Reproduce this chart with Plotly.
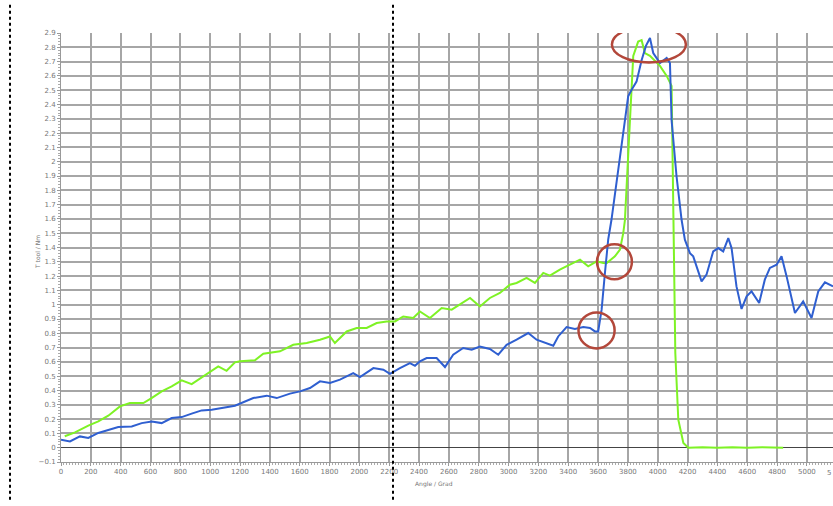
import plotly.graph_objects as go

# ---- data ----
green_x = [25, 94, 183, 250, 317, 395, 462, 552, 607, 675, 742, 809, 876, 943, 999, 1054, 1110,
           1166, 1200, 1300, 1356, 1468, 1557, 1647, 1736, 1803, 1836, 1915, 1982, 2049, 2116,
           2183, 2239, 2294, 2361, 2406, 2473, 2552, 2619, 2686, 2742, 2808, 2875, 2942, 3009,
           3054, 3121, 3177, 3233, 3277, 3344, 3411, 3479, 3534, 3590, 3635, 3657, 3713, 3747,
           3769, 3780, 3814, 3836, 3869, 3892, 3914, 3948, 4015, 4060, 4093, 4108, 4118, 4138,
           4172, 4205, 4300, 4400, 4500, 4600, 4700, 4841]
green_y = [0.08, 0.107, 0.154, 0.184, 0.224, 0.289, 0.312, 0.312, 0.347, 0.394, 0.429, 0.471,
           0.445, 0.494, 0.534, 0.569, 0.538, 0.597, 0.604, 0.611, 0.657, 0.674, 0.720, 0.732,
           0.755, 0.778, 0.732, 0.813, 0.837, 0.837, 0.872, 0.883, 0.883, 0.918, 0.907, 0.953,
           0.907, 0.977, 0.965, 1.012, 1.047, 0.988, 1.047, 1.082, 1.140, 1.152, 1.187, 1.152,
           1.222, 1.203, 1.245, 1.280, 1.315, 1.268, 1.303, 1.292, 1.29, 1.338, 1.385, 1.50,
           1.59, 2.29, 2.74, 2.84, 2.85, 2.76, 2.74, 2.67, 2.60, 2.53, 1.59, 0.66, 0.196,
           0.033, 0.0, 0.003, 0.0, 0.004, 0.0, 0.003, 0.0]

blue_x = [0, 60, 127, 183, 250, 317, 384, 474, 541, 608, 675, 742, 809, 876, 943, 1010, 1077,
          1166, 1289, 1379, 1446, 1535, 1602, 1669, 1736, 1803, 1870, 1959, 2004, 2094, 2161,
          2205, 2272, 2339, 2373, 2406, 2451, 2518, 2574, 2629, 2696, 2753, 2808, 2875, 2931,
          2987, 3054, 3132, 3188, 3255, 3300, 3333, 3389, 3445, 3501, 3546, 3579, 3601, 3624,
          3646, 3668, 3690, 3735, 3769, 3802, 3825, 3858, 3892, 3921, 3948, 3970, 4015, 4060,
          4082, 4093, 4126, 4160, 4182, 4216, 4238, 4294, 4327, 4372, 4406, 4439, 4473, 4495,
          4528, 4562, 4596, 4629, 4680, 4718, 4752, 4797, 4830, 4864, 4920, 4975, 5031, 5076,
          5121, 5175]
blue_y = [0.055, 0.044, 0.079, 0.068, 0.103, 0.126, 0.145, 0.149, 0.172, 0.184, 0.172, 0.207,
          0.214, 0.238, 0.261, 0.266, 0.277, 0.294, 0.347, 0.364, 0.347, 0.378, 0.394, 0.417,
          0.464, 0.452, 0.476, 0.522, 0.494, 0.557, 0.545, 0.517, 0.557, 0.592, 0.573, 0.604,
          0.627, 0.627, 0.564, 0.650, 0.697, 0.685, 0.708, 0.690, 0.650, 0.720, 0.755, 0.802,
          0.755, 0.732, 0.713, 0.778, 0.844, 0.830, 0.844, 0.837, 0.813, 0.813, 0.965, 1.22,
          1.455, 1.594, 1.944, 2.224, 2.457, 2.503, 2.56, 2.71, 2.81, 2.865, 2.76, 2.69, 2.725,
          2.69, 2.29, 1.90, 1.594, 1.455, 1.36, 1.338, 1.163, 1.21, 1.373, 1.396, 1.373, 1.466,
          1.396, 1.128, 0.97, 1.058, 1.093, 1.012, 1.175, 1.257, 1.28, 1.338, 1.198, 0.942,
          1.023, 0.907, 1.093, 1.156, 1.128]

# highlighted regions (centre x, centre y, half-width, half-height) in data units
marks_cx = [3941, 3710, 3590]
marks_cy = [2.82, 1.30, 0.82]
marks_rx = [248, 117, 121]
marks_ry = [0.126, 0.122, 0.126]

x_title = "Angle / Grad"
y_title = "T tool / Nm"
cut_tick = "5"

fig = go.Figure()
fig.add_trace(go.Scatter(x=green_x, y=green_y, mode="lines",
                         line=dict(color="#7ef225", width=2), showlegend=False))
fig.add_trace(go.Scatter(x=blue_x, y=blue_y, mode="lines",
                         line=dict(color="#2f5fd0", width=2), showlegend=False))

for cx, cy, rx, ry in zip(marks_cx, marks_cy, marks_rx, marks_ry):
    fig.add_shape(type="circle", xref="x", yref="y",
                  x0=cx - rx, x1=cx + rx, y0=cy - ry, y1=cy + ry,
                  line=dict(color="#b3473a", width=2.5))

# dotted separators of the composite screenshot
L, T, B, W = 61, 32.7, 462.3, 772
H = B - T
for px in [10, 393]:
    fig.add_shape(type="line", xref="paper", yref="paper",
                  x0=(px - L) / W, x1=(px - L) / W,
                  y0=(B - 500) / H, y1=(B - 2) / H,
                  line=dict(color="black", width=2, dash="dot"))

fig.add_annotation(text=x_title, xref="paper", yref="paper",
                   x=(413 - L) / W, y=(B - 484) / H, xanchor="left", yanchor="middle",
                   showarrow=False, font=dict(size=6, color="#777"))
fig.add_annotation(text=y_title, xref="paper", yref="paper",
                   x=(38 - L) / W, y=(B - 252) / H, xanchor="center", yanchor="middle",
                   textangle=-90, showarrow=False, font=dict(size=6, color="#777"))
fig.add_annotation(text=cut_tick, xref="paper", yref="paper", x=1, y=(B - 473) / H,
                   xanchor="right", yanchor="middle", showarrow=False,
                   font=dict(size=7, color="#777"))

fig.update_layout(
    width=833, height=506,
    margin=dict(l=L, r=0, t=T, b=506 - B, autoexpand=False),
    paper_bgcolor="white", plot_bgcolor="white",
    font=dict(family="DejaVu Sans", size=7, color="#777"),
    xaxis=dict(range=[0, 5175], dtick=200, tick0=0, showgrid=True,
               gridcolor="#a6a6a6", gridwidth=1.5, zeroline=False,
               showline=True, linecolor="#999", linewidth=1,
               ticks="outside", ticklen=3, tickcolor="#999",
               minor=dict(dtick=20, ticks="outside", ticklen=2, tickcolor="#aaa", showgrid=False),
               tickfont=dict(size=7, color="#777")),
    yaxis=dict(range=[-0.1, 2.9], dtick=0.1, tick0=0, showgrid=True,
               gridcolor="#a6a6a6", gridwidth=1.5, zeroline=True,
               zerolinecolor="#444", zerolinewidth=1,
               showline=True, linecolor="#999", linewidth=1,
               ticks="outside", ticklen=3, tickcolor="#999",
               minor=dict(dtick=0.02, ticks="outside", ticklen=2, tickcolor="#aaa", showgrid=False),
               tickfont=dict(size=7, color="#777")),
)

fig.write_html("out.html", config={"displayModeBar": False},
               post_script="document.body.style.margin='0px';document.body.style.overflow='hidden';")
